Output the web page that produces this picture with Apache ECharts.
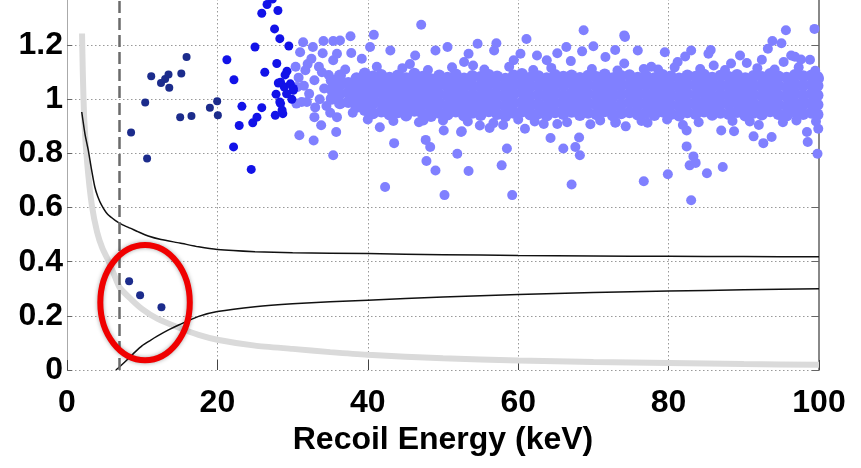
<!DOCTYPE html>
<html><head><meta charset="utf-8">
<script src="https://cdn.jsdelivr.net/npm/echarts@6/dist/echarts.min.js"></script>
<style>html,body{margin:0;padding:0;background:#fff}#c{width:861px;height:468px}</style>
</head><body><div id="c"></div>
<script>
// ---------- axis ticks ----------
const xTickLabels = ['0','20','40','60','80','100'];
const yTickLabels = ['0','0.2','0.4','0.6','0.8','1','1.2','1.4'];
const xTitle = 'Recoil Energy (keV)';
const thresholdEnergy = 7;

// ---------- curves ----------
const upperCurve = [[1.96,0.953],[2.4,0.87],[2.84,0.81],[3.2,0.75],[3.7,0.676],[4.1,0.64],[4.6,0.609],[5.4,0.575],[6.4,0.553],[7.4,0.536],[8.4,0.524],[9.5,0.51],[10.8,0.495],[12.5,0.482],[15,0.469],[17.5,0.455],[20,0.445],[25,0.437],[30,0.433],[40,0.43],[50,0.426],[60,0.423],[70,0.421],[80,0.42],[90,0.419],[100,0.418]];
const lowerCurve = [[6.5,0],[7,0.012],[8,0.038],[9,0.065],[10,0.09],[11,0.108],[12,0.125],[13.5,0.148],[15,0.168],[17.5,0.198],[20,0.216],[25,0.234],[30,0.245],[35,0.252],[40,0.258],[50,0.27],[60,0.279],[70,0.286],[80,0.292],[90,0.296],[100,0.3]];
const grayCurve = [[2.0,1.243],[2.1,1.1],[2.3,0.922],[2.7,0.76],[3.3,0.609],[4.0,0.51],[4.7,0.45],[5.5,0.404],[6.3,0.35],[7,0.305],[8.5,0.262],[10,0.225],[12,0.19],[15,0.155],[17.5,0.13],[20,0.112],[25,0.09],[30,0.078],[35,0.066],[40,0.056],[50,0.043],[60,0.035],[70,0.03],[80,0.026],[90,0.022],[100,0.019]];

// ---------- scatter: low-energy (navy) events ----------
const navyPts = [[8.26,0.328],[9.72,0.276],[12.56,0.232],[11.2,1.085],[12.5,1.06],[13.05,1.075],[13.5,1.092],[13.6,1.043],[15.2,1.095],[15.9,1.156],[10.4,0.988],[15.05,0.934],[16.55,0.938],[19.0,0.969],[19.97,0.993],[20.06,0.941],[8.52,0.877],[10.65,0.781]];

// ---------- scatter: blue events ----------
const bluePts = [[21.26,1.146],[22.2,1.072],[22.15,0.824],[24.5,0.741],[23.26,0.974],[22.9,0.903],[24.7,0.913],[25.26,0.934],[25.9,0.969],[27.7,0.941],[28.7,0.947],[28.4,0.984],[27.8,1.019],[28.4,1.063],[28.9,1.045],[29.7,1.057],[30.1,1.033],[27.9,1.132],[29.25,1.104],[26.3,1.1],[25.0,1.193],[29.5,1.197],[27.6,1.26],[28.3,1.224],[25.9,1.318],[28.05,1.328],[26.6,1.35],[27.3,1.37],[29.0,1.09],[28.6,0.96],[29.2,1.02],[29.9,1.0],[28.1,1.06],[30.1,1.04],[28.3,0.99]];

// ---------- scatter: light-blue events (outliers) ----------
const lightOutliers = [[47.1,1.275],[40.8,1.238],[37.7,1.233],[31.4,1.211],[34.1,1.215],[35.4,1.215],[36.3,1.217],[32.7,1.193],[31.0,1.174],[34.0,1.17],[37.8,1.171],[35.9,1.168],[32.5,1.15],[35.4,1.144],[31.7,1.107],[33.5,1.12],[30.6,1.045],[31.9,0.99],[30.5,0.984],[32.9,0.934],[33.8,0.904],[35.9,0.934],[30.9,0.867],[32.8,0.848],[35.8,0.879],[35.4,0.793],[41.6,0.897],[43.5,0.838],[42.3,0.676],[47.7,0.85],[48.3,0.824],[47.8,0.772],[49.0,0.737],[50.2,0.646],[51.9,0.799],[53.4,0.735],[50.1,0.885],[52.4,0.879],[47.4,0.922],
[46.3,1.162],[49.0,1.18],[50.6,1.193],[52.8,1.138],[43.0,1.18],[40.3,1.193],[39.2,1.15],[53.4,1.168],
[68.7,1.255],[74.1,1.236],[61.1,1.223],[54.6,1.205],[57.1,1.207],[70.0,1.196],[66.4,1.193],[72.9,1.182],[75.9,1.18],[60.3,1.168],[62.5,1.162],[65.2,1.17],[68.5,1.177],[71.6,1.156],[56.8,1.18],[63.8,1.144],[67.0,1.141],[59.4,1.144],[74.1,1.132],[74.2,1.23],
[52.5,0.882],[54.9,0.903],[56.2,0.894],[60.9,0.891],[63.4,0.909],[65.2,0.909],[72.9,0.913],[74.3,0.9],[64.3,0.857],[58.5,0.818],[66.0,0.818],[67.6,0.824],[68.1,0.859],[68.2,0.793],[57.8,0.756],[67.1,0.685],[59.2,0.646],
[95.6,1.255],[99.4,1.26],[93.8,1.215],[95.0,1.207],[93.2,1.187],[79.5,1.174],[83.0,1.18],[85.6,1.182],[82.2,1.158],[85.3,1.168],[89.5,1.162],[90.4,1.134],[92.4,1.146],[95.3,1.138],[81.2,1.138],[98.8,1.146],[76.7,1.112],[77.7,1.12],[88.3,1.132],[96.3,1.162],[96.8,1.157],[97.6,1.147],
[77.2,0.913],[82.4,0.885],[87.0,0.885],[88.7,0.882],[91.3,0.863],[92.6,0.838],[93.7,0.861],[98.4,0.879],[98.5,0.842],[99.9,0.891],[82.4,0.826],[83.3,0.789],[82.8,0.756],[83.6,0.765],[85.1,0.727],[87.2,0.75],[79.9,0.723],[76.7,0.697],[83.0,0.627],[99.8,0.799],[100,1.076]];

// band edge events
const lightFringe = [[37.0,1.11],[41.2,1.12],[44.6,1.115],[48.0,1.108],[51.2,1.118],[55.5,1.11],[58.8,1.12],[62.0,1.108],[64.4,1.116],[69.8,1.112],[73.2,1.106],[78.6,1.11],[80.8,1.118],[84.2,1.112],[87.5,1.108],[91.8,1.115],[94.1,1.11],[97.3,1.118],[99.5,1.105],[54.0,1.125],[45.6,1.13],[86.0,1.125],
[38.0,0.95],[40.0,0.925],[43.4,0.92],[46.8,0.915],[50.0,0.922],[53.3,0.918],[56.7,0.912],[60.0,0.925],[62.2,0.918],[66.5,0.915],[70.9,0.922],[73.0,0.915],[76.4,0.92],[79.8,0.925],[84.0,0.915],[88.5,0.92],[90.8,0.918],[95.2,0.915],[97.0,0.922],[99.6,0.918],[58.0,0.905],[69.6,0.908],[81.9,0.905],[92.0,0.905],
[30.8,1.08],[31.5,1.05],[32.2,1.02],[32.9,1.07],[33.6,1.0],[34.2,1.04],[34.8,1.09],[31.2,0.99],[33.0,0.97],[34.5,0.975],[30.4,1.12],[32.0,1.13],[33.9,1.1],[35.0,0.95]];

// dense band of events: each row = [energy, yields...]
const bandColumns = [
[35.2,1.002,1.036,1.07],[36.3,0.985,1.02,1.055,1.088],[37.4,0.99,1.025,1.06],[38.5,0.972,1.008,1.042,1.078],
[39.6,0.96,0.995,1.03,1.066,1.095],[40.7,0.948,0.985,1.018,1.052,1.084],[41.8,0.955,0.99,1.026,1.06,1.09],[42.9,0.944,0.978,1.012,1.046,1.08],
[44.0,0.952,0.988,1.022,1.058,1.088],[45.1,0.94,0.975,1.01,1.044,1.078],[46.2,0.958,0.992,1.028,1.062,1.094],[47.3,0.946,0.982,1.015,1.05,1.083],
[48.4,0.938,0.972,1.006,1.04,1.074],[49.5,0.95,0.986,1.02,1.055,1.088],[50.6,0.944,0.978,1.013,1.048,1.08],[51.7,0.955,0.99,1.025,1.058,1.092],
[52.8,0.94,0.975,1.01,1.045,1.077],[53.9,0.95,0.984,1.018,1.052,1.086],[55.0,0.942,0.977,1.012,1.046,1.082],[56.1,0.956,0.99,1.024,1.06,1.09],
[57.2,0.946,0.98,1.015,1.05,1.084],[58.3,0.938,0.973,1.008,1.042,1.076],[59.4,0.95,0.986,1.02,1.054,1.088],[60.5,0.955,0.99,1.025,1.06,1.093],
[61.6,0.944,0.978,1.012,1.047,1.08],[62.7,0.948,0.983,1.018,1.052,1.085],[63.8,0.94,0.975,1.01,1.045,1.078],[64.9,0.952,0.987,1.022,1.056,1.09],
[66.0,0.946,0.98,1.015,1.05,1.083],[67.1,0.954,0.988,1.023,1.058,1.088],[68.2,0.942,0.976,1.01,1.045,1.079],[69.3,0.95,0.985,1.02,1.054,1.087],
[70.4,0.945,0.98,1.014,1.048,1.082],[71.5,0.956,0.99,1.025,1.06,1.092],[72.6,0.94,0.975,1.01,1.044,1.078],[73.7,0.948,0.982,1.017,1.052,1.086],
[74.8,0.952,0.987,1.021,1.056,1.089],[75.9,0.944,0.978,1.012,1.047,1.08],[77.0,0.95,0.985,1.02,1.054,1.086],[78.1,0.942,0.976,1.01,1.045,1.078],
[79.2,0.955,0.99,1.024,1.058,1.09],[80.3,0.946,0.98,1.015,1.05,1.084],[81.4,0.94,0.974,1.008,1.043,1.077],[82.5,0.952,0.986,1.02,1.055,1.088],
[83.6,0.946,0.981,1.016,1.05,1.083],[84.7,0.955,0.99,1.024,1.058,1.091],[85.8,0.943,0.977,1.012,1.046,1.08],[86.9,0.95,0.985,1.019,1.053,1.087],
[88.0,0.946,0.98,1.014,1.048,1.082],[89.1,0.953,0.988,1.022,1.057,1.09],[90.2,0.94,0.975,1.01,1.044,1.078],[91.3,0.95,0.984,1.018,1.052,1.086],
[92.4,0.944,0.978,1.013,1.048,1.082],[93.5,0.956,0.99,1.025,1.06,1.093],[94.6,0.946,0.98,1.015,1.05,1.084],[95.7,0.94,0.975,1.01,1.045,1.08],
[96.8,0.952,0.986,1.021,1.056,1.09],[97.9,0.946,0.98,1.015,1.05,1.085],[99.0,0.95,0.985,1.02,1.055,1.088],[99.8,0.944,0.98,1.015,1.05,1.082]];

// highlighted region annotation (centre energy, centre yield, half-width, half-height)
const highlightRing = [[10.38, 0.249, 5.95, 0.213]];

// ---------- build ----------
const bandPts = [];
bandColumns.forEach(col => { for (let i = 1; i < col.length; i++) bandPts.push([col[0], col[i]]); });
const lightPts = lightFringe.concat(lightOutliers);

const tickFont = {fontFamily: '"Liberation Sans",Arial,Helvetica,sans-serif', fontWeight: 'bold', fontSize: 32, color: '#000'};

const chart = echarts.init(document.getElementById('c'), null, {renderer: 'canvas'});
chart.setOption({
  animation: false,
  backgroundColor: '#fff',
  grid: {left: 67, right: 42, top: -9, bottom: 98, containLabel: false, outerBoundsMode: 'none'},
  xAxis: {
    type: 'value', min: 0, max: 100, interval: 20,
    name: xTitle, nameLocation: 'middle', nameGap: 47,
    nameTextStyle: {fontFamily: '"Liberation Sans",Arial,sans-serif', fontWeight: 'bold', fontSize: 32, color: '#000'},
    axisLine: {show: false},
    axisTick: {show: true, inside: true, length: 10, lineStyle: {color: '#444', width: 1}},
    axisLabel: Object.assign({margin: 17, formatter: (v) => xTickLabels[Math.round(v / 20)]}, tickFont),
    splitLine: {show: true, lineStyle: {color: '#999', type: [1.5, 2.5], width: 1}}
  },
  yAxis: [{
    type: 'value', min: 0, max: 1.4, interval: 0.2,
    axisLine: {show: true, lineStyle: {color: '#aaa', width: 1}},
    axisTick: {show: true, inside: true, length: 5, lineStyle: {color: '#666'}},
    axisLabel: Object.assign({margin: 4, formatter: (v) => yTickLabels[Math.round(v / 0.2)]}, tickFont),
    splitLine: {show: true, lineStyle: {color: '#999', type: [1.5, 2.5], width: 1}}
  }, {
    type: 'value', min: 0, max: 1.4, interval: 0.2, position: 'right',
    axisLine: {show: true, lineStyle: {color: '#888', width: 2}},
    axisTick: {show: true, inside: true, length: 7, lineStyle: {color: '#666'}},
    axisLabel: {show: false}, splitLine: {show: false}
  }],
  series: [
    {type: 'line', data: grayCurve, showSymbol: false, smooth: 0.2, z: 2,
     lineStyle: {color: '#dadada', width: 6}, silent: true,
     markLine: {symbol: 'none', silent: true, label: {show: false},
       lineStyle: {color: '#6b6b6b', width: 2.5, type: [12, 5]},
       data: [{xAxis: thresholdEnergy}]}},
    {type: 'line', data: upperCurve, showSymbol: false, smooth: 0.2, z: 3, lineStyle: {color: '#111', width: 1.5}},
    {type: 'line', data: lowerCurve, showSymbol: false, smooth: 0.2, z: 3, lineStyle: {color: '#111', width: 1.5}},
    {type: 'scatter', data: bandPts, symbolSize: 12, z: 4, itemStyle: {color: '#8080ff', opacity: 1}},
    {type: 'scatter', data: lightPts, symbolSize: 10, z: 4, itemStyle: {color: '#8080ff', opacity: 1}},
    {type: 'scatter', data: bluePts, symbolSize: 9, z: 5, itemStyle: {color: '#1212e8', opacity: 1}},
    {type: 'scatter', data: navyPts, symbolSize: 8, z: 5, itemStyle: {color: '#1c2c8c', opacity: 1}},
    {type: 'custom', data: highlightRing, z: 10, silent: true,
     renderItem: (params, api) => {
       const c = api.coord([api.value(0), api.value(1)]);
       const s = api.size([api.value(2), api.value(3)]);
       return {type: 'ellipse', shape: {cx: c[0], cy: c[1], rx: s[0], ry: s[1]},
         style: {fill: 'none', stroke: '#f00000', lineWidth: 6, shadowBlur: 4, shadowColor: 'rgba(0,0,0,0.35)'}};
     }}
  ]
});
</script></body></html>
